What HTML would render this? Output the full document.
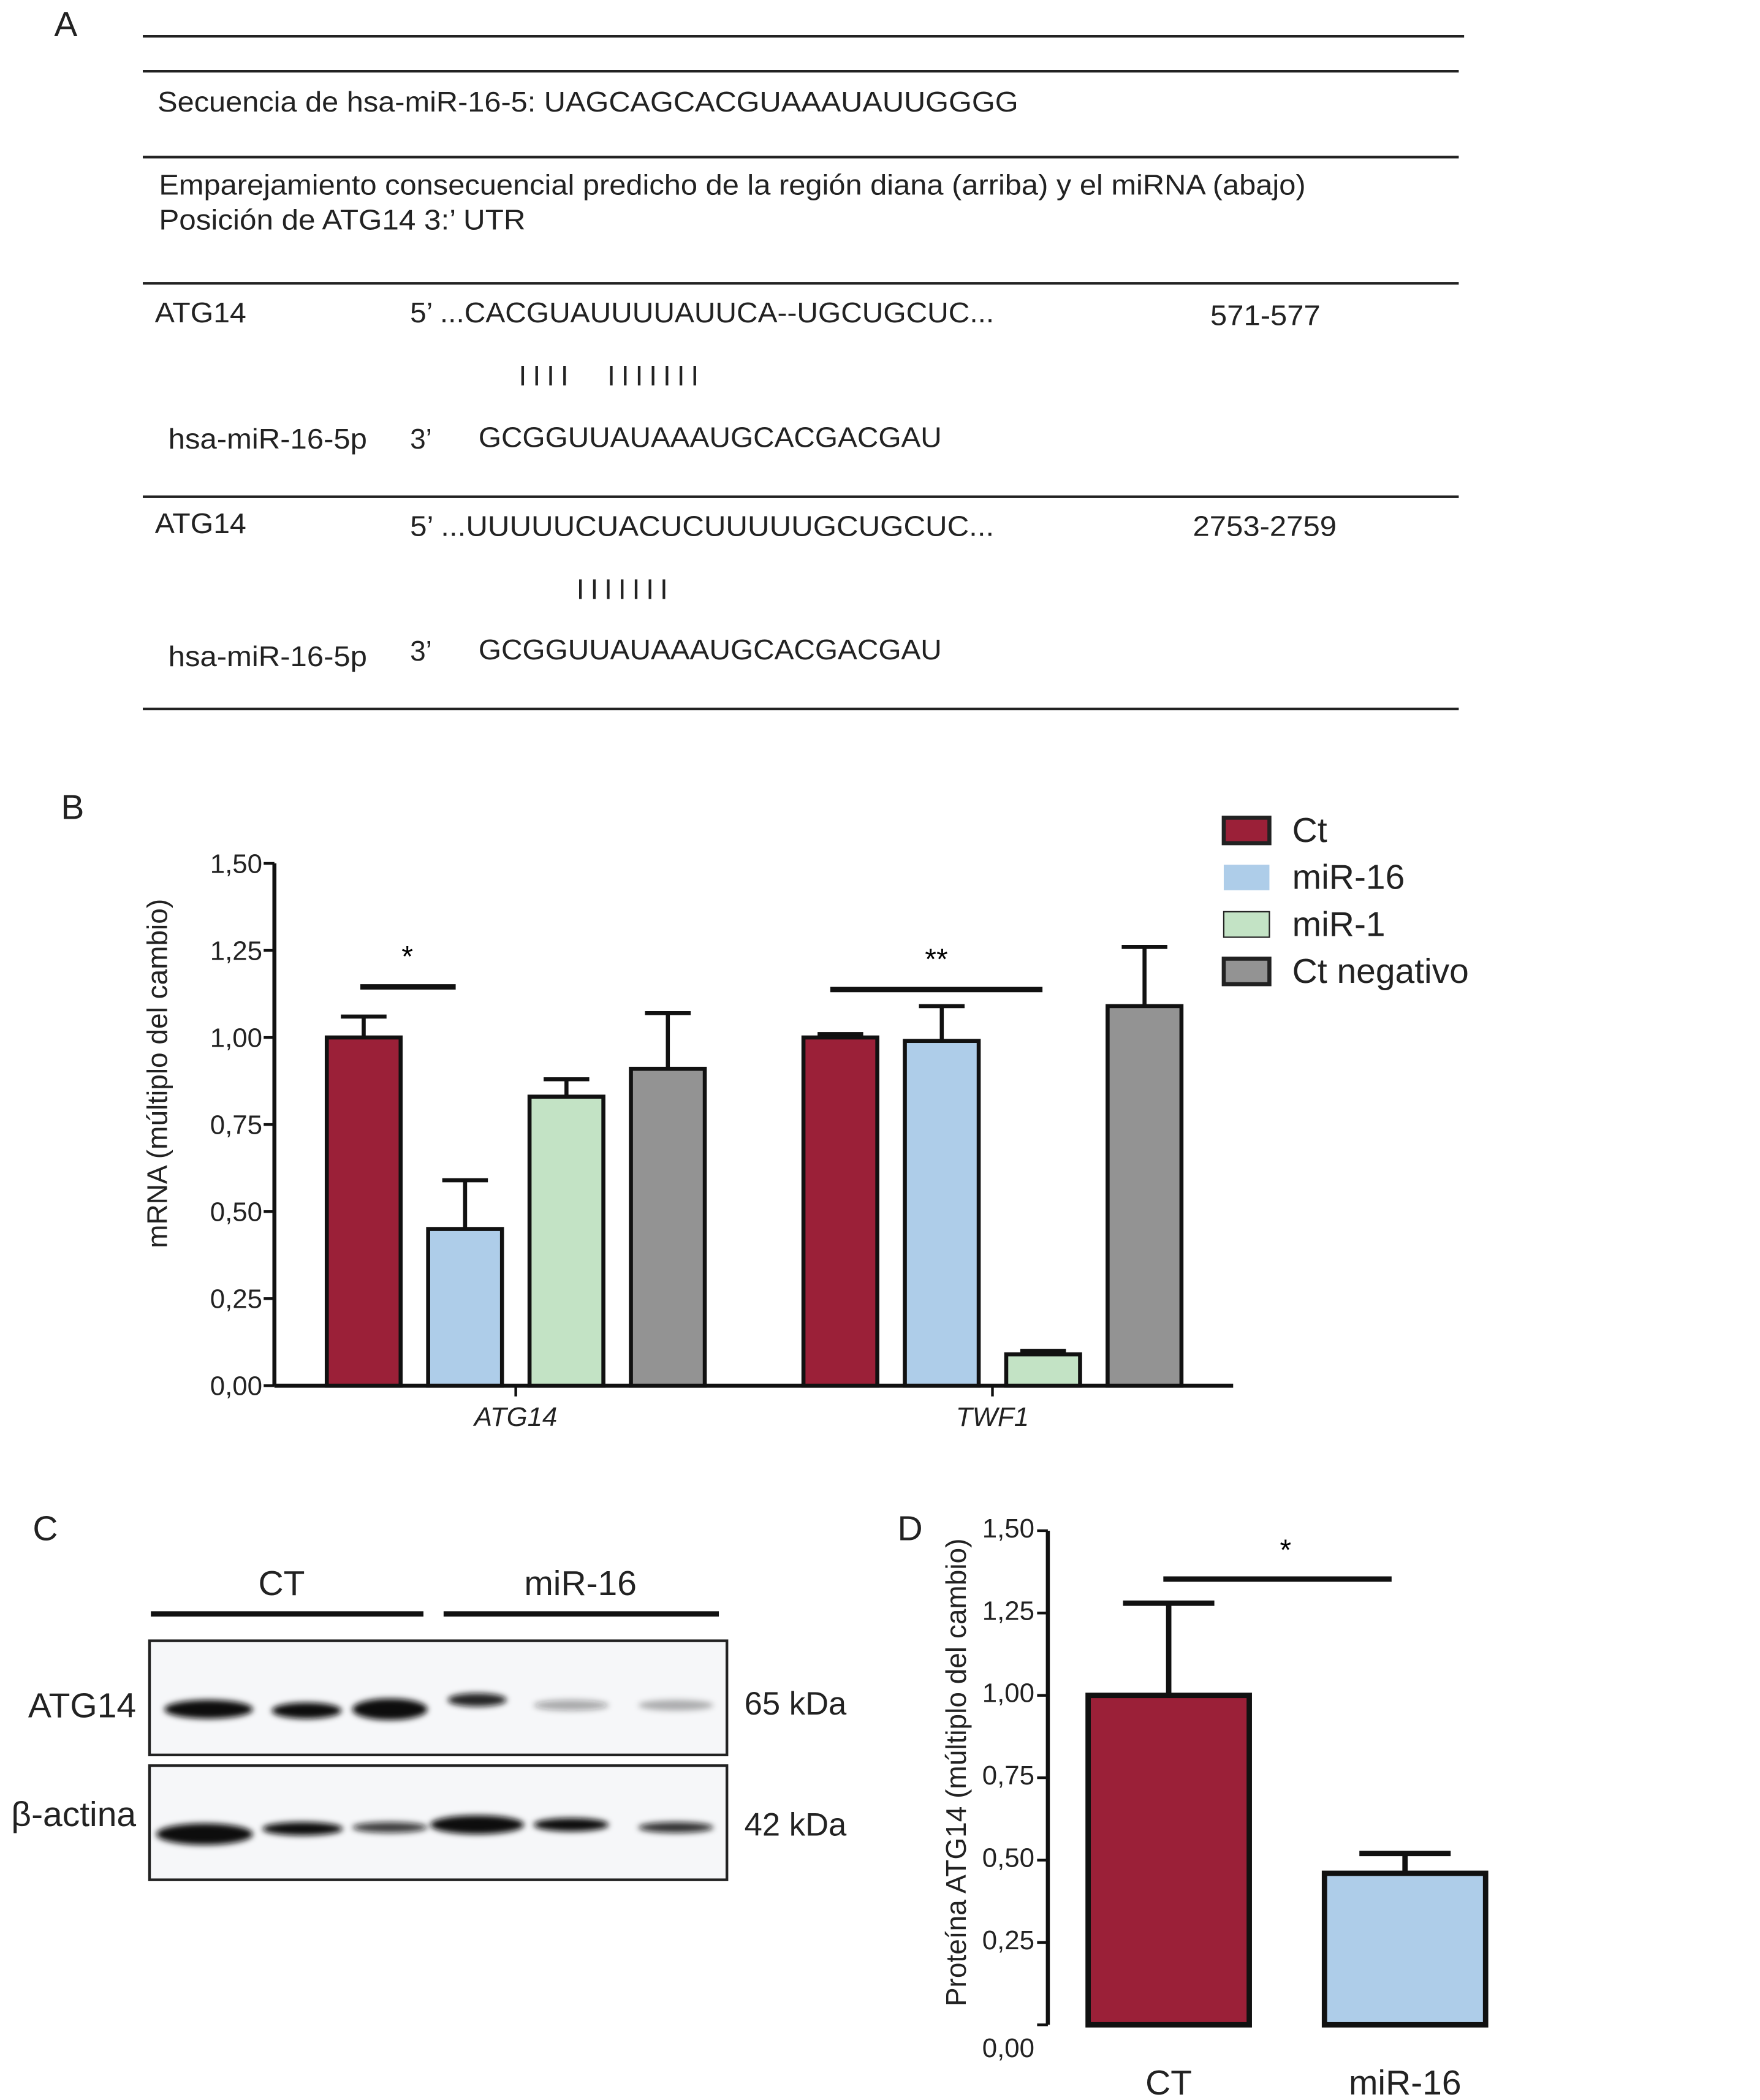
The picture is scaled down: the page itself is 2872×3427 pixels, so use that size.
<!DOCTYPE html>
<html><head><meta charset="utf-8"><style>
html,body{margin:0;padding:0;background:#fff;}
svg{display:block;font-family:"Liberation Sans",Arial,sans-serif;}
</style></head><body>
<svg width="2872" height="3427" viewBox="0 0 1310 1564" xmlns="http://www.w3.org/2000/svg">
<defs><filter id="blur" x="-20%" y="-200%" width="140%" height="500%"><feGaussianBlur stdDeviation="2.2"/></filter></defs>
<!-- Panel A -->
<g font-size="21" fill="#222" lengthAdjust="spacingAndGlyphs">
<text x="40" y="27" font-size="26">A</text>
<line x1="106" y1="27" x2="1090" y2="27" stroke="#222" stroke-width="2"/>
<line x1="106" y1="53" x2="1086" y2="53" stroke="#222" stroke-width="2"/>
<text x="117" y="83" textLength="641" lengthAdjust="spacingAndGlyphs">Secuencia de hsa-miR-16-5: UAGCAGCACGUAAAUAUUGGGG</text>
<line x1="106" y1="117" x2="1086" y2="117" stroke="#222" stroke-width="2"/>
<text x="118" y="145" textLength="854" lengthAdjust="spacingAndGlyphs">Emparejamiento consecuencial predicho de la región diana (arriba) y el miRNA (abajo)</text>
<text x="118" y="171" textLength="273" lengthAdjust="spacingAndGlyphs">Posición de ATG14 3:’ UTR</text>
<line x1="106" y1="211" x2="1086" y2="211" stroke="#222" stroke-width="2"/>
<text x="115" y="240" textLength="68" lengthAdjust="spacingAndGlyphs">ATG14</text>
<text x="305" y="240" textLength="435" lengthAdjust="spacingAndGlyphs">5’ ...CACGUAUUUUAUUCA--UGCUGCUC...</text>
<text x="901" y="242" textLength="82" lengthAdjust="spacingAndGlyphs">571-577</text>
<text x="386" y="287" textLength="37" lengthAdjust="spacing">IIII</text>
<text x="452" y="287" textLength="68" lengthAdjust="spacing">IIIIIII</text>
<text x="125" y="334" textLength="148" lengthAdjust="spacingAndGlyphs">hsa-miR-16-5p</text>
<text x="305" y="334">3’</text>
<text x="356" y="333" textLength="345" lengthAdjust="spacingAndGlyphs">GCGGUUAUAAAUGCACGACGAU</text>
<line x1="106" y1="370" x2="1086" y2="370" stroke="#222" stroke-width="2"/>
<text x="115" y="397" textLength="68" lengthAdjust="spacingAndGlyphs">ATG14</text>
<text x="305" y="399" textLength="435" lengthAdjust="spacingAndGlyphs">5’  ...UUUUUCUACUCUUUUUGCUGCUC...</text>
<text x="888" y="399" textLength="107" lengthAdjust="spacingAndGlyphs">2753-2759</text>
<text x="429" y="446" textLength="68" lengthAdjust="spacing">IIIIIII</text>
<text x="125" y="496" textLength="148" lengthAdjust="spacingAndGlyphs">hsa-miR-16-5p</text>
<text x="305" y="492">3’</text>
<text x="356" y="491" textLength="345" lengthAdjust="spacingAndGlyphs">GCGGUUAUAAAUGCACGACGAU</text>
<line x1="106" y1="528" x2="1086" y2="528" stroke="#222" stroke-width="2"/>
</g>
<!-- Panel B -->
<text x="45" y="610" font-size="26" fill="#222">B</text>
<g id="chartB"></g>
<!-- Panel C -->
<g fill="#222">
<text x="24" y="1147" font-size="26">C</text>
<text x="192" y="1188" font-size="26">CT</text>
<text x="390" y="1188" font-size="26">miR-16</text>
<line x1="112" y1="1202" x2="315" y2="1202" stroke="#111" stroke-width="4"/>
<line x1="330" y1="1202" x2="535" y2="1202" stroke="#111" stroke-width="4"/>
<rect x="111" y="1222" width="430" height="85" fill="#f6f7f9" stroke="#222" stroke-width="2"/>
<rect x="111" y="1315" width="430" height="85" fill="#f6f7f9" stroke="#222" stroke-width="2"/>
<g filter="url(#blur)" fill="#111">
<ellipse cx="155" cy="1273" rx="33" ry="7"/>
<ellipse cx="228" cy="1274" rx="26" ry="6"/>
<ellipse cx="290" cy="1273" rx="28" ry="8"/>
<ellipse cx="355" cy="1266" rx="22" ry="5" opacity="0.9"/>
<ellipse cx="425" cy="1270" rx="28" ry="4" opacity="0.35"/>
<ellipse cx="503" cy="1270" rx="28" ry="4" opacity="0.3"/>
<ellipse cx="152" cy="1366" rx="36" ry="8"/>
<ellipse cx="225" cy="1362" rx="30" ry="5"/>
<ellipse cx="290" cy="1361" rx="28" ry="4" opacity="0.8"/>
<ellipse cx="355" cy="1359" rx="35" ry="7"/>
<ellipse cx="425" cy="1359" rx="28" ry="5"/>
<ellipse cx="503" cy="1361" rx="28" ry="4" opacity="0.85"/>
</g>
<text x="101" y="1279" font-size="26" text-anchor="end">ATG14</text>
<text x="101" y="1360" font-size="26" text-anchor="end">β-actina</text>
<text x="554" y="1277" font-size="24">65 kDa</text>
<text x="554" y="1367" font-size="24">42 kDa</text>
</g>
<!-- Panel D -->
<text x="668" y="1147" font-size="26" fill="#222">D</text>
<g id="chartD"></g>
<script>
const NS="http://www.w3.org/2000/svg";
const bGroups=["ATG14","TWF1"];
const bSeries=["Ct","miR-16","miR-1","Ct negativo"];
const bColors=["#9b2038","#aecde9","#c3e3c5","#939393"];
const bMeans=[[1.00,0.45,0.83,0.91],[1.00,0.99,0.09,1.09]];
const bErrTops=[[1.06,0.59,0.88,1.07],[1.01,1.09,0.10,1.26]];
const bTicks=[0,0.25,0.5,0.75,1.0,1.25,1.5];
const bTickLabels=["0,00","0,25","0,50","0,75","1,00","1,25","1,50"];
const dCats=["CT","miR-16"];
const dMeans=[1.00,0.46];
const dErrTops=[1.28,0.52];
const dColors=["#9b2038","#aecde9"];
const dTicks=[0,0.25,0.5,0.75,1.0,1.25,1.5];
const dTickLabels=["0,00","0,25","0,50","0,75","1,00","1,25","1,50"];

function mk(parent,tag,attrs,text){const e=document.createElementNS(NS,tag);for(const k in attrs)e.setAttribute(k,attrs[k]);if(text!==undefined)e.textContent=text;parent.appendChild(e);return e;}

// Chart B
(function(){
const g=document.getElementById('chartB');
const x0=204,y0=1032,yTop=643,xEnd=918;
const y=v=>y0-(v/1.5)*(y0-yTop);
const groupStart=[243,598],step=75.5,bw=55;
let ax=mk(g,'line',{x1:x0,y1:yTop,x2:x0,y2:y0,stroke:'#111','stroke-width':3});


ax=mk(g,'line',{x1:x0,y1:y0,x2:xEnd,y2:y0,stroke:'#111','stroke-width':3});


bTicks.forEach((t,i)=>{
 mk(g,'line',{x1:x0-8,y1:y(t),x2:x0,y2:y(t),stroke:'#111','stroke-width':2});
 const tl=mk(g,'text',{x:x0-9,y:y(t)+7,'font-size':20,'text-anchor':'end',fill:'#222'},bTickLabels[i]);
 
 
});
const yt=mk(g,'text',{x:0,y:0,'font-size':21,'text-anchor':'middle',fill:'#222',transform:`translate(124,${(y0+yTop)/2-38}) rotate(-90)`},'mRNA (múltiplo del cambio)');


bGroups.forEach((gr,gi)=>{
 bMeans[gi].forEach((v,si)=>{
  if(v===null)return;
  const bx=groupStart[gi]+si*step, cx=bx+bw/2;
  const el=mk(g,'line',{x1:cx,y1:y(v),x2:cx,y2:y(bErrTops[gi][si]),stroke:'#111','stroke-width':3});
  
  
  mk(g,'line',{x1:cx-17,y1:y(bErrTops[gi][si]),x2:cx+17,y2:y(bErrTops[gi][si]),stroke:'#111','stroke-width':3});
  const r=mk(g,'rect',{x:bx,y:y(v),width:bw,height:y0-y(v),fill:bColors[si],stroke:'#111','stroke-width':3});
  
  
 });
 const gc=groupStart[gi]+1.5*step+bw/2;
 mk(g,'line',{x1:gc,y1:y0,x2:gc,y2:y0+8,stroke:'#111','stroke-width':2});
 const gl=mk(g,'text',{x:gc,y:y0+30,'font-size':20,'font-style':'italic','text-anchor':'middle',fill:'#222'},gr);
 
 
});
mk(g,'line',{x1:268,y1:735,x2:339,y2:735,stroke:'#111','stroke-width':4});
mk(g,'text',{x:303,y:720,'font-size':22,'text-anchor':'middle'},'*');
mk(g,'line',{x1:618,y1:737,x2:776,y2:737,stroke:'#111','stroke-width':4});
mk(g,'text',{x:697,y:722,'font-size':22,'text-anchor':'middle'},'**');
bSeries.forEach((s,i)=>{
 const ly=609+i*35;
 const b=mk(g,'rect',{x:911,y:ly,width:34,height:19,fill:bColors[i],stroke:i===1?'none':'#222','stroke-width':i===0||i===3?3:1});
 
 
 const t=mk(g,'text',{x:962,y:ly+18,'font-size':26,fill:'#222'},s);
 
 
});
})();

// Chart D
(function(){
const g=document.getElementById('chartD');
const x0=780,y0=1508,yTop=1140;
const y=v=>y0-(v/1.5)*(y0-yTop);
const bx=[810,986],bw=120;
const ax=mk(g,'line',{x1:x0,y1:yTop,x2:x0,y2:y0,stroke:'#111','stroke-width':3});


dTicks.forEach((t,i)=>{
 mk(g,'line',{x1:x0-8,y1:y(t),x2:x0,y2:y(t),stroke:'#111','stroke-width':2});
 const ty=i===0?y(t)+24:y(t)+5;
 const tl=mk(g,'text',{x:x0-10,y:ty,'font-size':20,'text-anchor':'end',fill:'#222'},dTickLabels[i]);
 
 
});
const yt=mk(g,'text',{x:0,y:0,'font-size':21,'text-anchor':'middle',fill:'#222',transform:`translate(719,${(y0+yTop)/2-4}) rotate(-90)`},'Proteína ATG14 (múltiplo del cambio)');


dCats.forEach((c,i)=>{
 const cx=bx[i]+bw/2;
 const e=mk(g,'line',{x1:cx,y1:y(dMeans[i]),x2:cx,y2:y(dErrTops[i]),stroke:'#111','stroke-width':4});
 
 
 mk(g,'line',{x1:cx-34,y1:y(dErrTops[i]),x2:cx+34,y2:y(dErrTops[i]),stroke:'#111','stroke-width':4});
 const r=mk(g,'rect',{x:bx[i],y:y(dMeans[i]),width:bw,height:y0-y(dMeans[i]),fill:dColors[i],stroke:'#111','stroke-width':4});
 
 
 const l=mk(g,'text',{x:cx,y:1560,'font-size':26,'text-anchor':'middle',fill:'#222'},c);
 
 
});
mk(g,'line',{x1:866,y1:1176,x2:1036,y2:1176,stroke:'#111','stroke-width':4});
mk(g,'text',{x:957,y:1162,'font-size':22,'text-anchor':'middle'},'*');
})();
</script>
</svg>
</body></html>
